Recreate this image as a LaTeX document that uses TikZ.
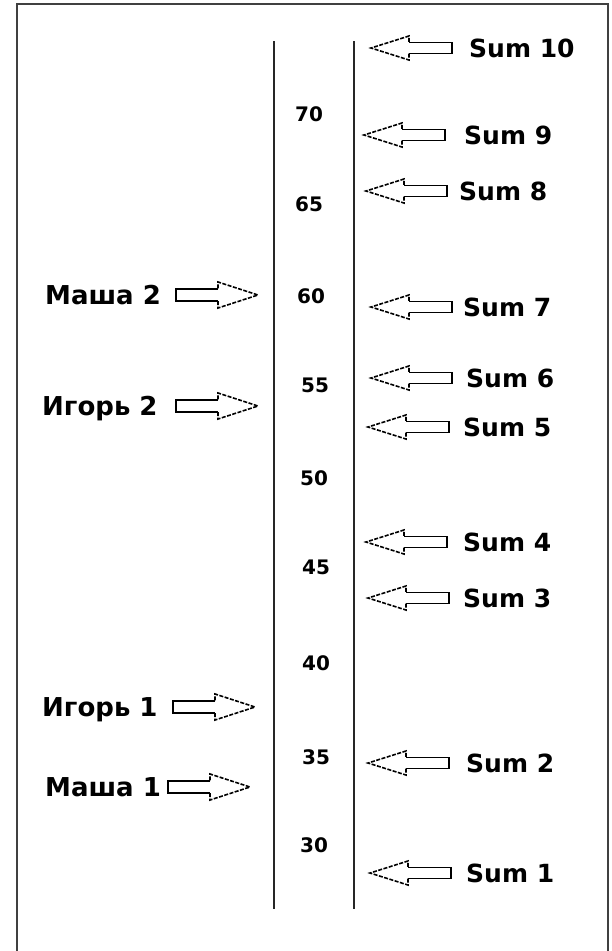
\documentclass[tikz,border=0pt]{standalone}
\usepackage{fontspec}
\setmainfont{DejaVu Sans}
\begin{document}
\begin{tikzpicture}[x=1pt,y=-1pt,
  frameline/.style={line width=2.2pt,draw=black!75},
  axisline/.style={line width=2.2pt,draw=black!85},
  arrowline/.style={line width=1.6pt,draw=black},
  dashhead/.style={dash pattern=on 4pt off 1.5pt},
  sumlabel/.style={anchor=base west,inner sep=0pt,font=\fontsize{25}{28}\selectfont\bfseries},
  namelabel/.style={anchor=base west,inner sep=0pt,font=\fontsize{26}{29}\selectfont\bfseries},
  numlabel/.style={anchor=base,inner sep=0pt,font=\fontsize{20}{24}\selectfont\bfseries},
  larrow/.pic={
    \draw[arrowline] (38,-5.5) -- (81,-5.5) -- (81,5.5) -- (38,5.5);
    \draw[arrowline,dashhead] (38,5.5) -- (38,12) -- (0,0) -- (38,-12) -- (38,-5.5);
  },
  rarrow/.pic={
    \draw[arrowline] (-40,-6) -- (-82,-6) -- (-82,6) -- (-40,6);
    \draw[arrowline,dashhead] (-40,6) -- (-40,13) -- (0,0) -- (-40,-13) -- (-40,-6);
  }]
\useasboundingbox (0,0) rectangle (611,951);
% frame (open at the bottom)
\draw[frameline] (17,951) -- (17,4) -- (608,4) -- (608,951);
% two scale lines
\coordinate (a1) at (274,41);
\coordinate (a2) at (274,909);
\coordinate (b1) at (354,41);
\coordinate (b2) at (354,909);
\draw[axisline] (a1) -- (a2);
\draw[axisline] (b1) -- (b2);
% numbers
\node[numlabel] (n70) at (309,121.5) {70};
\node[numlabel] (n65) at (309,211.5) {65};
\node[numlabel] (n60) at (311,303.5) {60};
\node[numlabel] (n55) at (315,392.5) {55};
\node[numlabel] (n50) at (314,485.5) {50};
\node[numlabel] (n45) at (316,574.5) {45};
\node[numlabel] (n40) at (316,670.5) {40};
\node[numlabel] (n35) at (316,764.5) {35};
\node[numlabel] (n30) at (314,852.5) {30};
% sums
\pic at (371,48) {larrow};  \node[sumlabel] (s10) at (469,57) {Sum 10};
\pic at (364,135) {larrow}; \node[sumlabel] (s9) at (464,144) {Sum 9};
\pic at (366,191) {larrow}; \node[sumlabel] (s8) at (459,200) {Sum 8};
\pic at (371,307) {larrow}; \node[sumlabel] (s7) at (463,316) {Sum 7};
\pic at (371,378) {larrow}; \node[sumlabel] (s6) at (466,387) {Sum 6};
\pic at (368,427) {larrow}; \node[sumlabel] (s5) at (463,436) {Sum 5};
\pic at (366,542) {larrow}; \node[sumlabel] (s4) at (463,551) {Sum 4};
\pic at (368,598) {larrow}; \node[sumlabel] (s3) at (463,607) {Sum 3};
\pic at (368,763) {larrow}; \node[sumlabel] (s2) at (466,772) {Sum 2};
\pic at (370,873) {larrow}; \node[sumlabel] (s1) at (466,882) {Sum 1};
% names
\node[namelabel] (m2) at (45,304.5) {Маша 2};  \pic at (258,295) {rarrow};
\node[namelabel] (i2) at (42,415.5) {Игорь 2}; \pic at (258,406) {rarrow};
\node[namelabel] (i1) at (42,716.5) {Игорь 1}; \pic at (255,707) {rarrow};
\node[namelabel] (m1) at (45,796.5) {Маша 1};  \pic at (250,787) {rarrow};
\end{tikzpicture}
\end{document}
